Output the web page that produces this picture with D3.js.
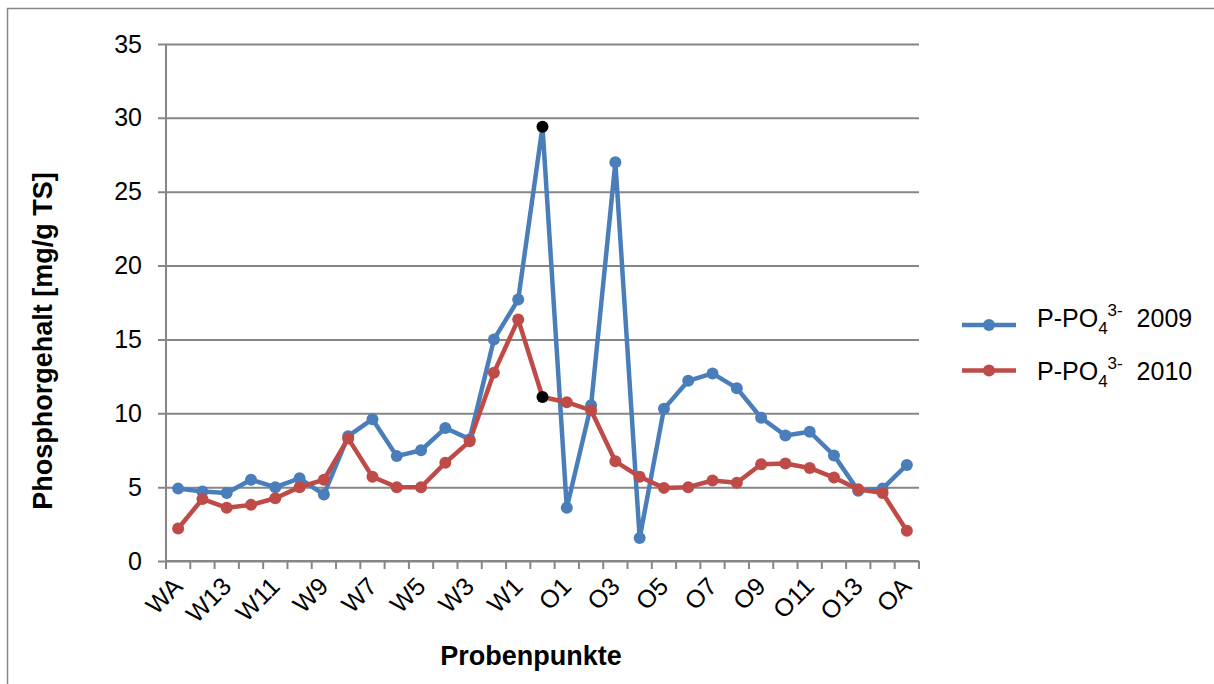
<!DOCTYPE html>
<html>
<head>
<meta charset="utf-8">
<script src="https://cdn.jsdelivr.net/npm/d3@7"></script>
<style>
  body { margin: 0; background: #fff; }
  svg text { font-family: "Liberation Sans", Arial, sans-serif; }
</style>
</head>
<body>
<div id="chart"></div>
<script>
// Probenpunkte (jede zweite Beschriftung wird angezeigt)
const probenpunkte = ["WA", "W14", "W13", "W12", "W11", "W10", "W9", "W8", "W7", "W6", "W5", "W4", "W3", "W2", "W1",
  "M", "O1", "O2", "O3", "O4", "O5", "O6", "O7", "O8", "O9", "O10", "O11", "O12", "O13", "O14", "OA"];

const werte2009 = [4.9, 4.7, 4.6, 5.5, 5.0, 5.6, 4.5, 8.45, 9.6, 7.1, 7.5, 9.0, 8.25, 15.0, 17.7,
  29.4, 3.6, 10.55, 27.0, 1.55, 10.3, 12.2, 12.7, 11.7, 9.7, 8.5, 8.75, 7.15, 4.75, 4.9, 6.5];

const werte2010 = [2.2, 4.2, 3.6, 3.8, 4.25, 5.0, 5.5, 8.3, 5.7, 5.0, 5.0, 6.65, 8.1, 12.75, 16.35,
  11.1, 10.75, 10.2, 6.75, 5.7, 4.95, 5.0, 5.45, 5.3, 6.55, 6.6, 6.3, 5.65, 4.85, 4.6, 2.05];

const yTicks = [0, 5, 10, 15, 20, 25, 30, 35];
const hervorgehoben = ["M"]; // schwarze Markierung

const serien = [
  { jahr: "2009", werte: werte2009, farbe: "#4A7EBB" },
  { jahr: "2010", werte: werte2010, farbe: "#BE4B48" }
];

const ancho = 1214, alto = 684;
const margen = { top: 44, right: 295, bottom: 123, left: 166 };
const grau = "#868686";

const svg = d3.select("#chart").append("svg")
  .attr("width", ancho)
  .attr("height", alto);

// Rahmen
svg.append("path")
  .attr("d", `M7.5,${alto} V8.5 H${ancho}`)
  .attr("fill", "none")
  .attr("stroke", grau)
  .attr("stroke-width", 1.5);

const x = d3.scaleBand()
  .domain(probenpunkte)
  .range([margen.left, ancho - margen.right])
  .padding(0);

const y = d3.scaleLinear()
  .domain([0, 35])
  .range([alto - margen.bottom, margen.top]);

// Gitterlinien + Y-Achse
svg.append("g")
  .attr("transform", `translate(${margen.left},0)`)
  .call(d3.axisLeft(y).tickValues(yTicks).tickSize(-(ancho - margen.right - margen.left)).tickPadding(24))
  .call(g => g.select(".domain").remove())
  .call(g => g.selectAll("line").attr("stroke", grau).attr("stroke-width", 2).attr("x1", -8))
  .call(g => g.selectAll("text").attr("font-size", 25).attr("fill", "#000"));

svg.append("line")
  .attr("x1", margen.left).attr("x2", margen.left)
  .attr("y1", margen.top).attr("y2", alto - margen.bottom)
  .attr("stroke", grau).attr("stroke-width", 2);

// X-Achse
const xAchse = svg.append("g")
  .attr("transform", `translate(0,${alto - margen.bottom})`);

xAchse.append("line")
  .attr("x1", margen.left).attr("x2", ancho - margen.right)
  .attr("stroke", grau).attr("stroke-width", 2);

const grenzen = probenpunkte.map(p => x(p)).concat([ancho - margen.right]);
xAchse.selectAll(".tick-x")
  .data(grenzen)
  .enter().append("line")
  .attr("x1", d => d).attr("x2", d => d)
  .attr("y1", 0).attr("y2", 8)
  .attr("stroke", grau).attr("stroke-width", 2);

xAchse.selectAll(".label-x")
  .data(probenpunkte.filter((p, i) => i % 2 === 0))
  .enter().append("text")
  .attr("transform", d => `translate(${x(d) + x.bandwidth() / 2 + 6},27) rotate(-45)`)
  .attr("text-anchor", "end")
  .attr("font-size", 25)
  .text(d => d);

// Linien
const linie = d3.line()
  .x((d, i) => x(probenpunkte[i]) + x.bandwidth() / 2)
  .y(d => y(d));

svg.selectAll(".serie")
  .data(serien)
  .enter().append("path")
  .attr("fill", "none")
  .attr("stroke", d => d.farbe)
  .attr("stroke-width", 4.5)
  .attr("stroke-linejoin", "round")
  .attr("d", d => linie(d.werte));

serien.forEach(s => {
  svg.selectAll(null)
    .data(s.werte.map((v, i) => ({ v, p: probenpunkte[i] })))
    .enter().append("circle")
    .attr("cx", d => x(d.p) + x.bandwidth() / 2)
    .attr("cy", d => y(d.v))
    .attr("r", 6)
    .attr("fill", d => hervorgehoben.includes(d.p) ? "#000" : s.farbe);
});

// Achsentitel
svg.append("text")
  .attr("x", 531)
  .attr("y", 665)
  .attr("text-anchor", "middle")
  .attr("font-size", 27)
  .attr("font-weight", "bold")
  .text("Probenpunkte");

svg.append("text")
  .attr("transform", "translate(52,341) rotate(-90)")
  .attr("text-anchor", "middle")
  .attr("font-size", 27)
  .attr("font-weight", "bold")
  .text("Phosphorgehalt [mg/g TS]");

// Legende
const legende = svg.selectAll(".legende")
  .data(serien)
  .enter().append("g");

legende.append("line")
  .attr("x1", 962).attr("x2", 1016)
  .attr("y1", (d, i) => 325 + i * 45.5).attr("y2", (d, i) => 325 + i * 45.5)
  .attr("stroke", d => d.farbe)
  .attr("stroke-width", 4.5);

legende.append("circle")
  .attr("cx", 989).attr("cy", (d, i) => 325 + i * 45.5).attr("r", 6)
  .attr("fill", d => d.farbe);

const lt = legende.append("text")
  .attr("x", 1037)
  .attr("y", (d, i) => 327 + i * 53)
  .attr("font-size", 25);
lt.append("tspan").text("P-PO");
lt.append("tspan").attr("font-size", 17).attr("dy", 7).text("4");
lt.append("tspan").attr("font-size", 17).attr("dy", -18).text("3-");
lt.append("tspan").attr("dy", 11).text(d => "\u00a0\u00a0" + d.jahr);
</script>
</body>
</html>
